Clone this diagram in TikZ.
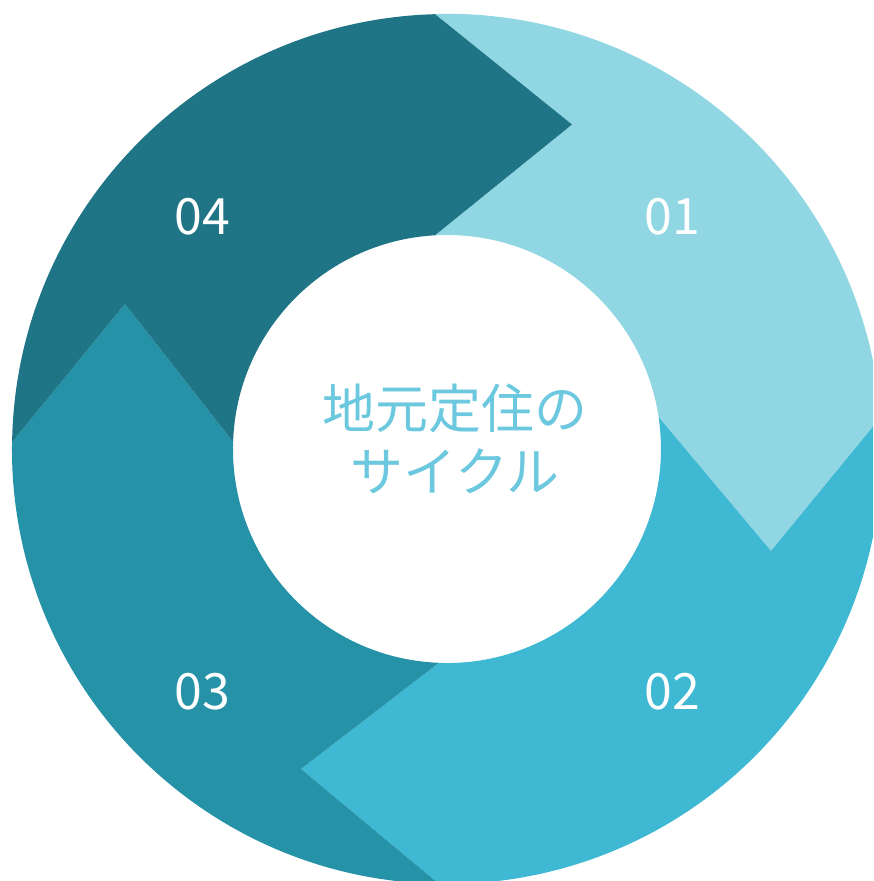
\documentclass[tikz,border=0pt]{standalone}
\usepackage{fontspec}
\newfontfamily\jpfont{Noto Sans CJK JP}
\definecolor{cA}{RGB}{144,215,227}
\definecolor{cB}{RGB}{62,184,211}
\definecolor{cC}{RGB}{37,146,168}
\definecolor{cD}{RGB}{31,117,133}
\definecolor{ctext}{RGB}{107,200,222}
\begin{document}
\begin{tikzpicture}[x=1pt,y=1pt,
  numlabel/.style={text=white,font=\jpfont\fontsize{50}{56}\selectfont,inner sep=0pt},
  centerlabel/.style={text=ctext,font=\jpfont\fontsize{53}{63}\selectfont,align=center,inner sep=0pt}]
\useasboundingbox (0,0) rectangle (873,881);
\clip (0,0) rectangle (873,881);
% base points
\coordinate (To) at (435,867);
\coordinate (Ti) at (435,645.7);
\coordinate (Ro) at (880.8,464);
\coordinate (Ri) at (658.6,464);
\coordinate (Bo) at (439,-2.9);
\coordinate (Bi) at (439,218.1);
\coordinate (Lo) at (12.1,439);
\coordinate (Li) at (233.1,439);
% tips
\coordinate (Ttip) at (572,756.5);
\coordinate (Rtip) at (771,330);
\coordinate (Btip) at (301,112);
\coordinate (Ltip) at (125,577);
% segment 01
\fill[cA] (To) arc[start angle=91.58, end angle=4.22, radius=435] -- (Rtip) -- (Ri)
  arc[start angle=8.60, end angle=93.21, radius=214] -- (Ttip) -- cycle;
% segment 02
\fill[cB] (Ro) arc[start angle=4.22, end angle=-91.05, radius=435] -- (Btip) -- (Bi)
  arc[start angle=-92.14, end angle=8.60, radius=214] -- (Rtip) -- cycle;
% segment 03
\fill[cC] (Bo) arc[start angle=268.95, end angle=179.08, radius=435] -- (Ltip) -- (Li)
  arc[start angle=178.13, end angle=267.86, radius=214] -- (Btip) -- cycle;
% segment 04
\fill[cD] (Lo) arc[start angle=179.08, end angle=91.58, radius=435] -- (Ttip) -- (Ti)
  arc[start angle=93.21, end angle=178.13, radius=214] -- (Ltip) -- cycle;
% labels
\node[numlabel] (n1) at (672,664) {01};
\node[numlabel] (n2) at (672,189) {02};
\node[numlabel] (n3) at (202,189) {03};
\node[numlabel] (n4) at (202,664) {04};
\node[centerlabel] (title) at (455,442) {地元定住の\\サイクル};
\end{tikzpicture}
\end{document}
